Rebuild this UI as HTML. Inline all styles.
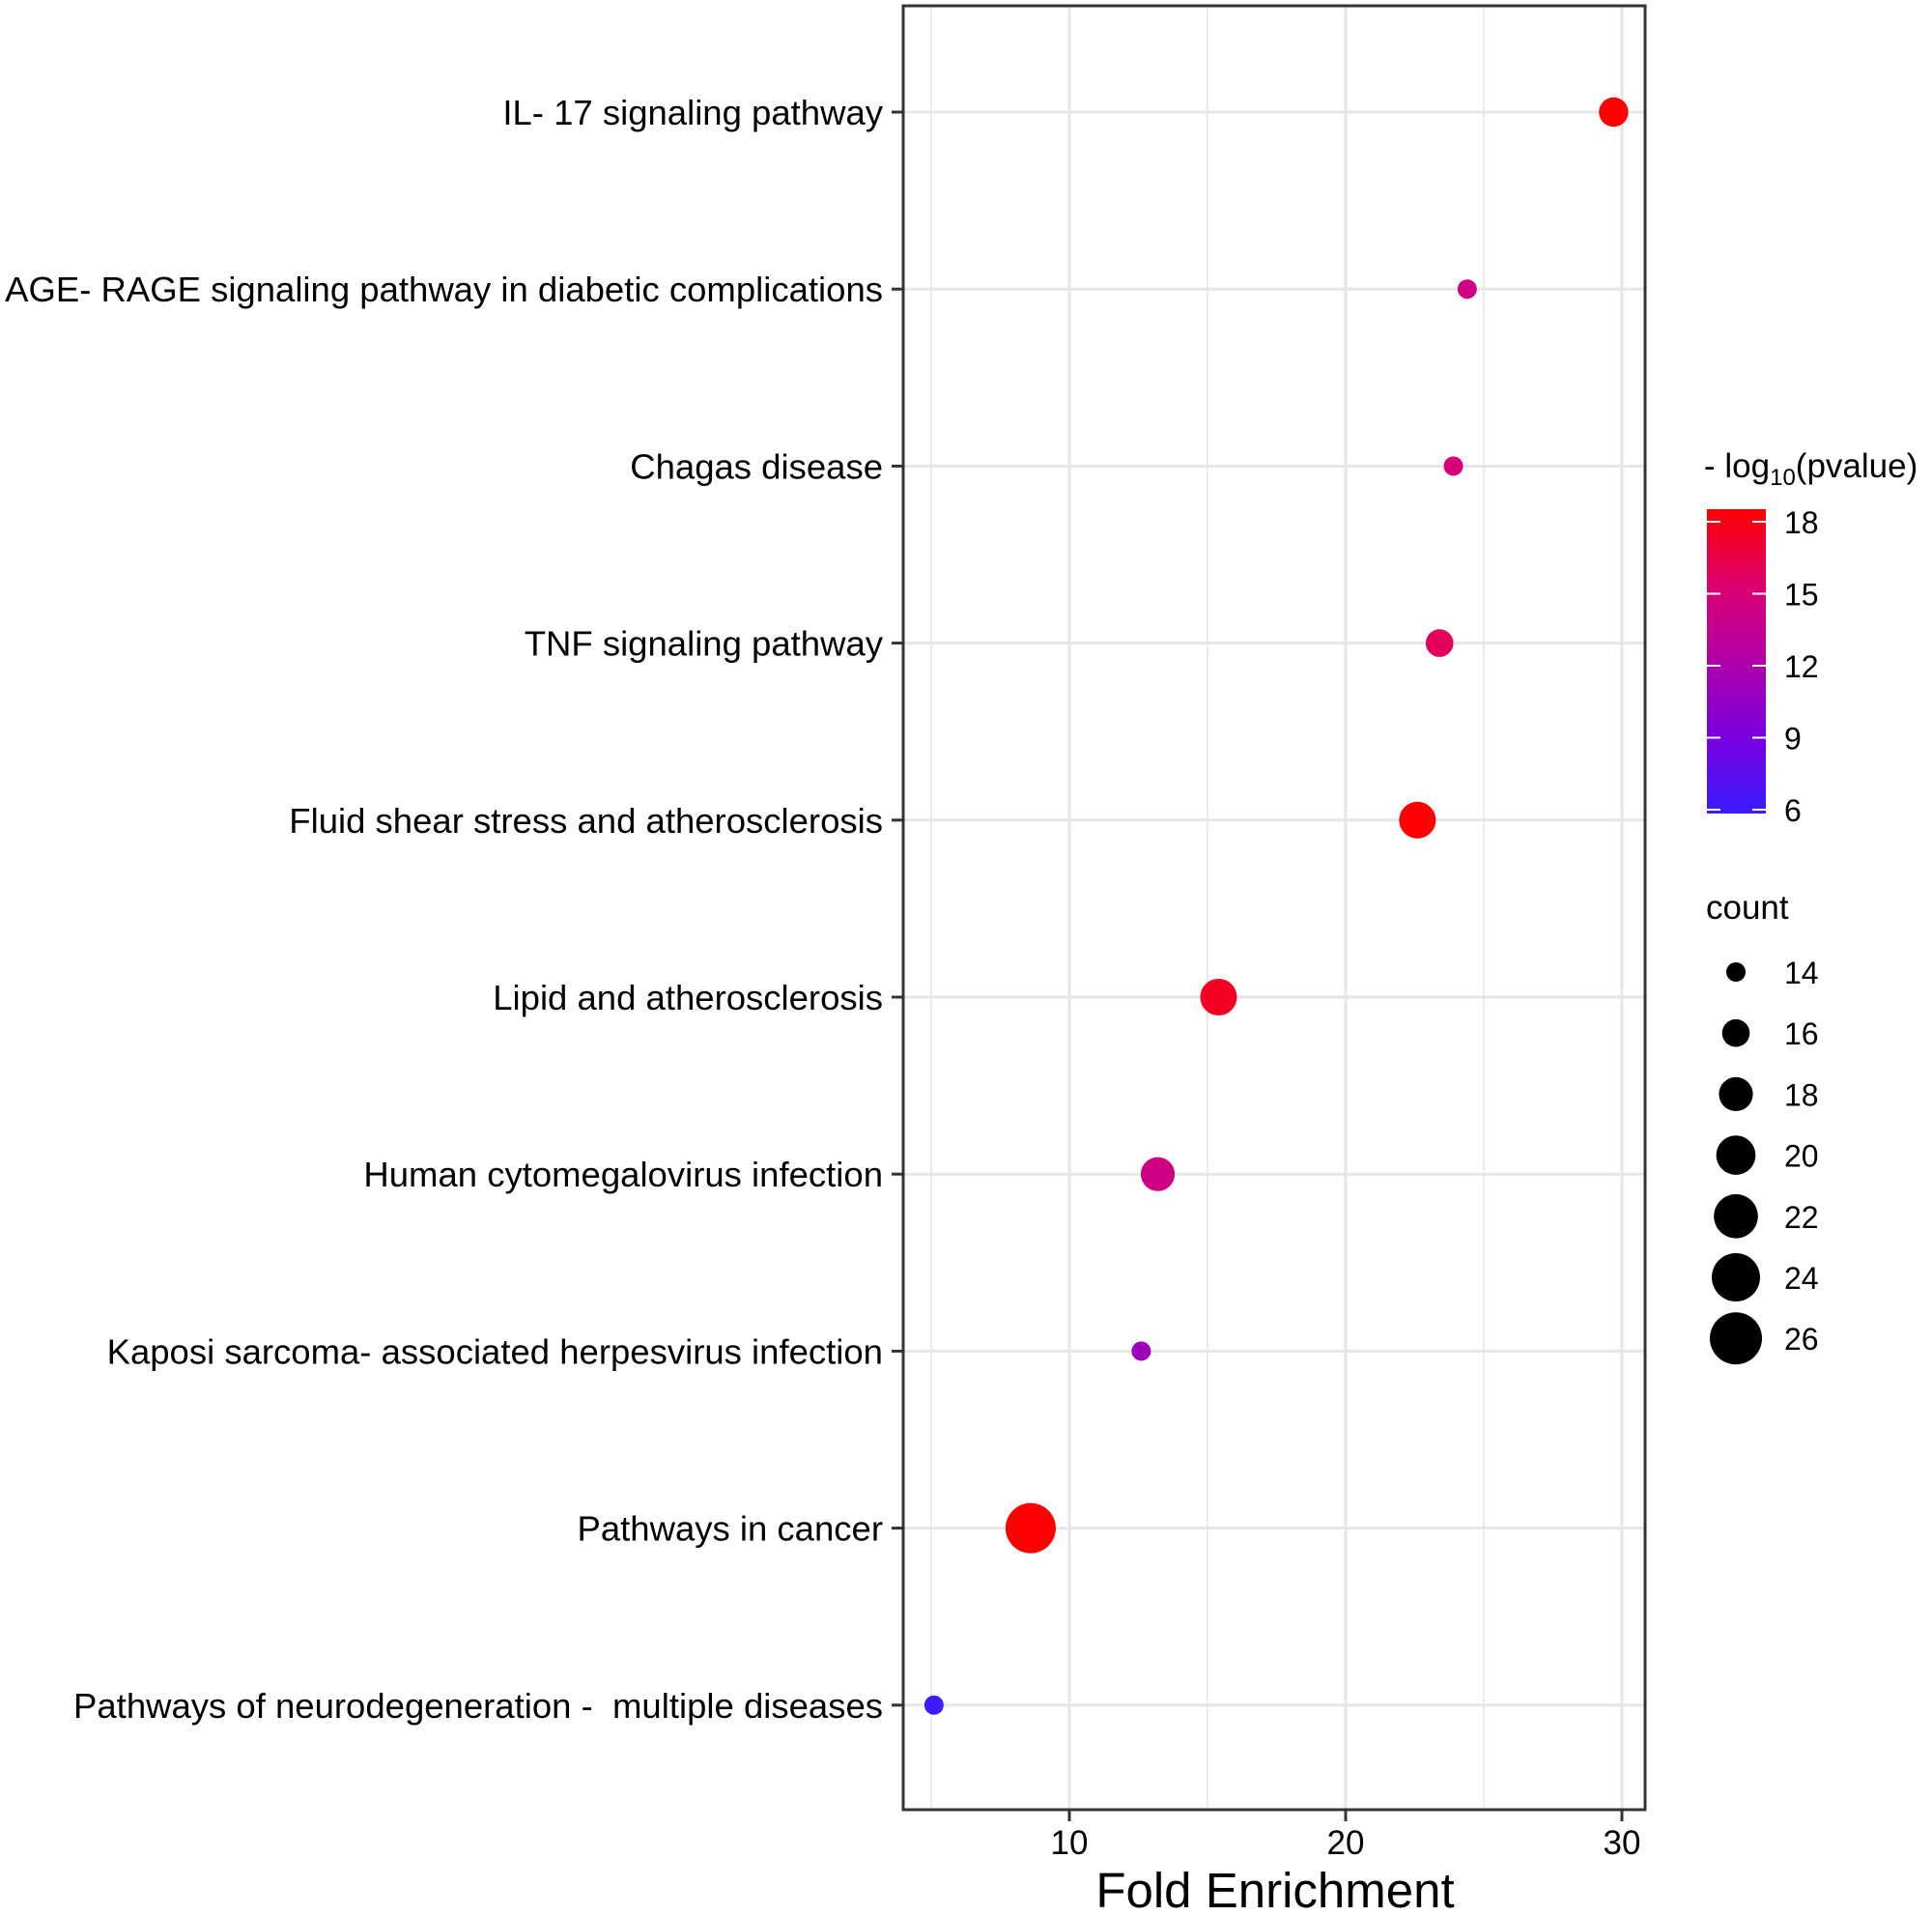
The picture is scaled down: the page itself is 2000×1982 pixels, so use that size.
<!DOCTYPE html>
<html><head><meta charset="utf-8"><style>
body{margin:0;background:#fff}
svg{display:block;font-family:"Liberation Sans",Arial,sans-serif}
</style></head><body>
<svg id="chart" width="2000" height="1982" viewBox="0 0 2000 1982">
<defs><linearGradient id="cg" x1="0" y1="1" x2="0" y2="0">
<stop offset="0" stop-color="#3a1cff"/><stop offset="0.25" stop-color="#7a00e0"/><stop offset="0.5" stop-color="#b000a8"/><stop offset="0.75" stop-color="#dd0070"/><stop offset="1" stop-color="#ff0000"/></linearGradient></defs>
<g id="grid"></g>
<g id="pts"></g>
<rect x="935" y="6" width="768" height="1867" fill="none" stroke="#333" stroke-width="3"/>
<g id="axes"></g>
<text x="1320" y="1974" font-size="51" text-anchor="middle">Fold Enrichment</text>
<g>
<text x="1764" y="494" font-size="35">- log<tspan font-size="24" dy="8">10</tspan><tspan dy="-8">(pvalue)</tspan></text>
<rect x="1767" y="527" width="61" height="315" fill="url(#cg)"/>
<g id="cbticks"></g>
</g>
<g id="sizeleg">
<text x="1766" y="951" font-size="35">count</text>
</g>
</svg>
<script>
const categories=["IL- 17 signaling pathway","AGE- RAGE signaling pathway in diabetic complications","Chagas disease","TNF signaling pathway","Fluid shear stress and atherosclerosis","Lipid and atherosclerosis","Human cytomegalovirus infection","Kaposi sarcoma- associated herpesvirus infection","Pathways in cancer","Pathways of neurodegeneration -\u00a0 multiple diseases"];
const foldEnrichment=[29.7,24.4,23.9,23.4,22.6,15.4,13.2,12.6,8.6,5.1];
const counts=[16.5,14,14,16,19,19,18,14,25,14];
const logP=[18,14,14.5,15.5,18,17,14,11,18,6];
const xTicks=[10,20,30];
const cbTicks=[6,9,12,15,18];
const sizeTicks=[14,16,18,20,22,24,26];

const NS="http://www.w3.org/2000/svg";
const X=v=>821+v*28.6;
const Y=i=>116+i*183.2;
const R=c=>Math.sqrt(100+(c-14)/12*(729-100));
const CB=v=>838-(v-6)/12*298;
function col(v){const t=Math.max(0,Math.min(1,(v-6)/12));
 const stops=[[58,28,255],[122,0,224],[176,0,168],[221,0,112],[255,0,0]];
 const p=t*4,i=Math.min(3,Math.floor(p)),f=p-i;
 const c=stops[i].map((a,k)=>Math.round(a+(stops[i+1][k]-a)*f));return `rgb(${c})`;}
function mk(tag,attrs,parent,txt){const e=document.createElementNS(NS,tag);for(const k in attrs)e.setAttribute(k,attrs[k]);if(txt!==undefined)e.textContent=txt;document.getElementById(parent).appendChild(e);return e;}
[5,15,25].forEach(v=>{const e=mk('line',{x1:X(v),x2:X(v),y1:6,y2:1873,stroke:'#ebebeb','stroke-width':2},'grid');

});
xTicks.forEach(v=>{const e=mk('line',{x1:X(v),x2:X(v),y1:6,y2:1873,stroke:'#e6e6e6','stroke-width':3},'grid');


const t=mk('line',{x1:X(v),x2:X(v),y1:1873,y2:1885,stroke:'#333','stroke-width':3},'axes');


const l=mk('text',{x:X(v),y:1919,'font-size':35,'text-anchor':'middle'},'axes',String(v));

});
categories.forEach((c,i)=>{const g=mk('line',{x1:935,x2:1703,y1:Y(i),y2:Y(i),stroke:'#e6e6e6','stroke-width':3},'grid');


const t=mk('line',{x1:923,x2:935,y1:Y(i),y2:Y(i),stroke:'#333','stroke-width':3},'axes');


const l=mk('text',{x:914,y:Y(i)+13,'font-size':36.5,'text-anchor':'end'},'axes',c);


const p=mk('circle',{cx:X(foldEnrichment[i]),cy:Y(i),r:R(counts[i]),fill:col(logP[i])},'pts');

});
cbTicks.forEach(v=>{[[1767,1781],[1814,1828]].forEach(s=>{const e=mk('line',{x1:s[0],x2:s[1],y1:CB(v),y2:CB(v),stroke:'#fff','stroke-width':2},'cbticks');

});
const l=mk('text',{x:1847,y:CB(v)+12,'font-size':32},'cbticks',String(v));

});
sizeTicks.forEach((v,i)=>{const y=1006+i*63.2;
const c=mk('circle',{cx:1797,cy:y,r:R(v),fill:'#000'},'sizeleg');


const l=mk('text',{x:1847,y:y+12,'font-size':32},'sizeleg',String(v));

});
</script>
</body></html>
